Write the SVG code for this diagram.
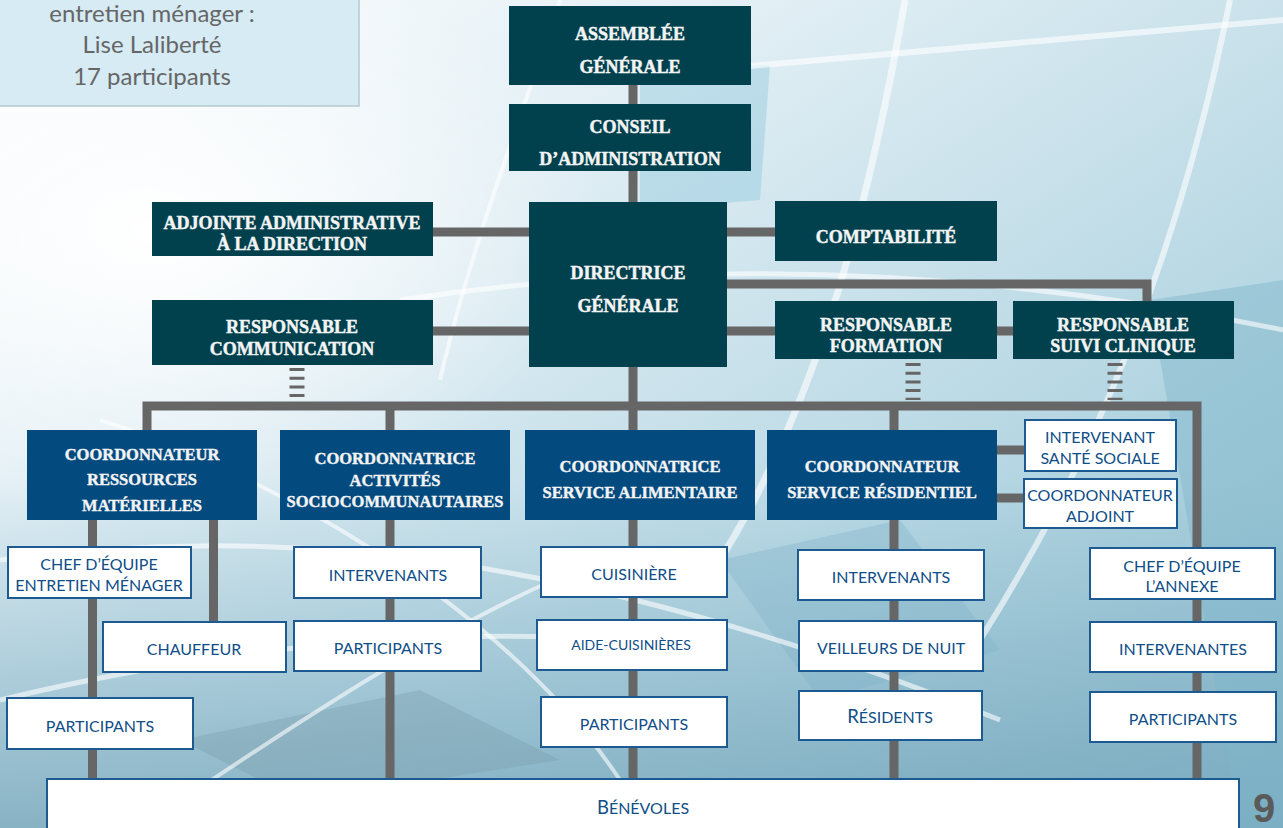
<svg xmlns="http://www.w3.org/2000/svg" width="1283" height="828" viewBox="0 0 1283 828">
<defs>
<linearGradient id="bg" x1="0" y1="0" x2="1" y2="1">
<stop offset="0" stop-color="#ffffff"/>
<stop offset="0.3" stop-color="#e2eff5"/>
<stop offset="0.65" stop-color="#b8d8e4"/>
<stop offset="1" stop-color="#8dbdcf"/>
</linearGradient>
<linearGradient id="low" x1="0" y1="0" x2="0" y2="1">
<stop offset="0" stop-color="#7fb0c4" stop-opacity="0"/>
<stop offset="1" stop-color="#72a3b8" stop-opacity="0.75"/>
</linearGradient>
<radialGradient id="glow" cx="0.12" cy="0.28" r="0.35">
<stop offset="0" stop-color="#ffffff" stop-opacity="1"/>
<stop offset="1" stop-color="#ffffff" stop-opacity="0"/>
</radialGradient>
<style>
.dark{fill:#01414e}
.coord{fill:#034a7f}
.wbox{fill:#ffffff;stroke:#1d5a92;stroke-width:2}
.dt{font-family:"Liberation Serif",serif;font-weight:bold;font-size:18px;fill:#f4f4f4;stroke:#f4f4f4;stroke-width:0.45;text-anchor:middle}
.ct{font-family:"Liberation Serif",serif;font-weight:bold;font-size:16.5px;fill:#f4f4f4;stroke:#f4f4f4;stroke-width:0.4;text-anchor:middle}
.wt{font-family:Lato,"Open Sans",sans-serif;font-size:16px;fill:#0f4e88;text-anchor:middle}
.wt.small{font-size:14px}
.conn{stroke:#666666;stroke-width:9;fill:none}
.ladder{stroke:#666666;stroke-width:15;stroke-dasharray:3 5.7;fill:none}
.arc{stroke:#ffffff;fill:none;stroke-opacity:0.6}
</style>
</defs>
<g id="background">
<rect width="1283" height="828" fill="url(#bg)"/>
<rect x="0" y="480" width="1283" height="348" fill="url(#low)"/>
<rect width="1283" height="828" fill="url(#glow)"/>
<polygon points="640,70 770,65 760,200 640,210" fill="#7fbfd8" opacity="0.35"/>
<polygon points="1150,300 1283,280 1283,828 1240,828" fill="#7fb5c9" opacity="0.45"/>
<polygon points="180,740 420,690 560,760 300,800" fill="#7c9fb0" opacity="0.4"/>
<polygon points="720,560 900,520 1000,650 820,700" fill="#7fb3c8" opacity="0.35"/>
<path class="arc" stroke-width="7" d="M905,0 C870,200 820,400 720,560"/>
<path class="arc" stroke-width="6" d="M1230,0 C1180,250 1100,450 980,640"/>
<path class="arc" stroke-width="6" d="M750,66 C950,50 1150,30 1283,20"/>
<path class="arc" stroke-width="5" d="M400,300 C600,270 900,250 1283,330"/>
<path class="arc" stroke-width="5" d="M0,560 C300,520 600,560 1000,720"/>
<path class="arc" stroke-width="5" d="M0,700 C250,640 500,620 700,650"/>
<path class="arc" stroke-width="4" d="M140,828 C300,720 450,620 600,560"/>
<path class="arc" stroke-width="4" d="M560,0 C520,120 470,250 440,380"/>
<path class="arc" stroke-width="4" d="M100,420 C260,470 500,600 620,780"/>
</g>
<g id="note">
<rect x="-2" y="-2" width="361" height="108" fill="#d6ebf4" stroke="#b4c8d0" stroke-width="1.5"/>
<g font-family="Lato,'Open Sans',sans-serif" font-size="24" fill="#666666" text-anchor="middle">
<text x="152" y="22">entretien ménager :</text>
<text x="152" y="53">Lise Laliberté</text>
<text x="152" y="85">17 participants</text>
</g>
</g>
<g id="connectors">
<line class="conn" x1="633" y1="80" x2="633" y2="110"/>
<line class="conn" x1="633" y1="165" x2="633" y2="206"/>
<line class="conn" x1="633" y1="360" x2="633" y2="780"/>
<line class="conn" x1="430" y1="232" x2="532" y2="232"/>
<line class="conn" x1="430" y1="331" x2="532" y2="331"/>
<line class="conn" x1="724" y1="232" x2="778" y2="232"/>
<line class="conn" x1="724" y1="331" x2="778" y2="331"/>
<line class="conn" x1="994" y1="331" x2="1016" y2="331"/>
<path class="conn" d="M724,284 H1147 V304"/>
<line class="ladder" x1="297" y1="368" x2="297" y2="400"/>
<line class="ladder" x1="913" y1="363" x2="913" y2="400"/>
<line class="ladder" x1="1115" y1="363" x2="1115" y2="400"/>
<path class="conn" d="M147,433 V406 H1197 V781"/>
<line class="conn" x1="390" y1="406" x2="390" y2="781"/>
<line class="conn" x1="894" y1="406" x2="894" y2="781"/>
<line class="conn" x1="92.5" y1="515" x2="92.5" y2="781"/>
<line class="conn" x1="213.5" y1="515" x2="213.5" y2="625"/>
<line class="conn" x1="994" y1="450" x2="1027" y2="450"/>
<line class="conn" x1="994" y1="498" x2="1026" y2="498"/>
</g>
<g id="assemblee"><rect class="dark" x="509" y="6" width="242" height="79"/><text class="dt" x="630" y="40">ASSEMBLÉE</text><text class="dt" x="630" y="73">GÉNÉRALE</text></g>
<g id="conseil"><rect class="dark" x="509" y="104" width="242" height="67"/><text class="dt" x="630" y="133">CONSEIL</text><text class="dt" x="630" y="165">D’ADMINISTRATION</text></g>
<g id="adjointe"><rect class="dark" x="152" y="202" width="281" height="54"/><text class="dt" x="292" y="229">ADJOINTE ADMINISTRATIVE</text><text class="dt" x="292" y="250">À LA DIRECTION</text></g>
<g id="communication"><rect class="dark" x="152" y="300" width="281" height="65"/><text class="dt" x="292" y="333">RESPONSABLE</text><text class="dt" x="292" y="355">COMMUNICATION</text></g>
<g id="directrice"><rect class="dark" x="529" y="202" width="198" height="165"/><text class="dt" x="628" y="279">DIRECTRICE</text><text class="dt" x="628" y="312">GÉNÉRALE</text></g>
<g id="comptabilite"><rect class="dark" x="775" y="201" width="222" height="60"/><text class="dt" x="886" y="243">COMPTABILITÉ</text></g>
<g id="formation"><rect class="dark" x="775" y="301" width="222" height="58"/><text class="dt" x="886" y="331">RESPONSABLE</text><text class="dt" x="886" y="352">FORMATION</text></g>
<g id="suivi"><rect class="dark" x="1013" y="301" width="221" height="58"/><text class="dt" x="1123" y="331">RESPONSABLE</text><text class="dt" x="1123" y="352">SUIVI CLINIQUE</text></g>
<g id="ressources"><rect class="coord" x="27" y="430" width="230" height="90"/><text class="ct" x="142" y="460">COORDONNATEUR</text><text class="ct" x="142" y="485">RESSOURCES</text><text class="ct" x="142" y="511">MATÉRIELLES</text></g>
<g id="activites"><rect class="coord" x="280" y="430" width="230" height="90"/><text class="ct" x="395" y="464">COORDONNATRICE</text><text class="ct" x="395" y="486">ACTIVITÉS</text><text class="ct" x="395" y="507">SOCIOCOMMUNAUTAIRES</text></g>
<g id="alimentaire"><rect class="coord" x="525" y="430" width="230" height="90"/><text class="ct" x="640" y="472">COORDONNATRICE</text><text class="ct" x="640" y="498">SERVICE ALIMENTAIRE</text></g>
<g id="residentiel"><rect class="coord" x="767" y="430" width="230" height="90"/><text class="ct" x="882" y="472">COORDONNATEUR</text><text class="ct" x="882" y="498">SERVICE RÉSIDENTIEL</text></g>
<g id="sante"><rect class="wbox" x="1025" y="420" width="151" height="51"/><text class="wt" x="1100" y="443">INTERVENANT</text><text class="wt" x="1100" y="464">SANTÉ SOCIALE</text></g>
<g id="adjoint"><rect class="wbox" x="1024" y="479" width="153" height="49"/><text class="wt" x="1100" y="501">COORDONNATEUR</text><text class="wt" x="1100" y="522">ADJOINT</text></g>
<g id="chef-menager"><rect class="wbox" x="8" y="547" width="183" height="51"/><text class="wt" x="99" y="570">CHEF D’ÉQUIPE</text><text class="wt" x="99" y="591">ENTRETIEN MÉNAGER</text></g>
<g id="intervenants-socio"><rect class="wbox" x="294" y="547" width="187" height="51"/><text class="wt" x="388" y="581">INTERVENANTS</text></g>
<g id="cuisiniere"><rect class="wbox" x="541" y="547" width="186" height="50"/><text class="wt" x="634" y="580">CUISINIÈRE</text></g>
<g id="intervenants-resid"><rect class="wbox" x="798" y="550" width="186" height="50"/><text class="wt" x="891" y="583">INTERVENANTS</text></g>
<g id="chef-annexe"><rect class="wbox" x="1090" y="548" width="185" height="51"/><text class="wt" x="1182" y="572">CHEF D’ÉQUIPE</text><text class="wt" x="1182" y="592">L’ANNEXE</text></g>
<g id="chauffeur"><rect class="wbox" x="103" y="622" width="183" height="50"/><text class="wt" x="194" y="655">CHAUFFEUR</text></g>
<g id="participants-socio"><rect class="wbox" x="294" y="621" width="187" height="50"/><text class="wt" x="388" y="654">PARTICIPANTS</text></g>
<g id="aide"><rect class="wbox" x="537" y="620" width="190" height="50"/><text class="wt small" x="631" y="650">AIDE-CUISINIÈRES</text></g>
<g id="veilleurs"><rect class="wbox" x="799" y="621" width="184" height="50"/><text class="wt" x="891" y="654">VEILLEURS DE NUIT</text></g>
<g id="intervenantes"><rect class="wbox" x="1090" y="622" width="186" height="50"/><text class="wt" x="1183" y="655">INTERVENANTES</text></g>
<g id="participants-left"><rect class="wbox" x="7" y="698" width="186" height="51"/><text class="wt" x="100" y="732">PARTICIPANTS</text></g>
<g id="participants-alim"><rect class="wbox" x="541" y="697" width="186" height="50"/><text class="wt" x="634" y="730">PARTICIPANTS</text></g>
<g id="residents"><rect class="wbox" x="799" y="691" width="183" height="49"/><text class="wt" x="890" y="723"><tspan font-size="18.5">R</tspan>ÉSIDENTS</text></g>
<g id="participants-annexe"><rect class="wbox" x="1090" y="692" width="186" height="50"/><text class="wt" x="1183" y="725">PARTICIPANTS</text></g>
<g id="benevoles"><rect class="wbox" x="47" y="779" width="1192" height="60"/><text class="wt" x="643" y="814"><tspan font-size="18.5">B</tspan>ÉNÉVOLES</text></g>
<text x="1264" y="822" font-family="'Liberation Sans',sans-serif" font-weight="bold" font-size="40" fill="#5a5a5a" text-anchor="middle">9</text>
</svg>
